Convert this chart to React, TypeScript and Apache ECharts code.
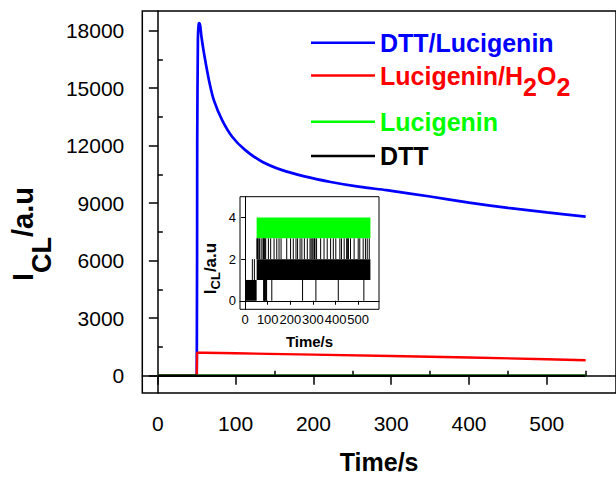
import React, { useEffect, useRef } from "react";
import * as echarts from "echarts";

const FONT = "'Liberation Sans', Arial, Helvetica, sans-serif";

// ---------- main chart data ----------
const blueX = [0, 50, 50.6, 51.5, 52.4, 53.2, 54.5, 56, 59.6, 65.9, 72.2, 82.8, 95.5, 112.4, 133.5, 158.9, 188.5, 222.2, 260.2, 294, 350, 400, 450, 500, 550];
const blueY = [0, 0, 12000, 17600, 18300, 18400, 18250, 17700, 16760, 15380, 14350, 13320, 12470, 11770, 11180, 10740, 10400, 10110, 9850, 9680, 9350, 9030, 8760, 8520, 8300];

const redX = [0, 50, 50.4, 60, 100, 200, 300, 400, 500, 550];
const redY = [0, 0, 1200, 1200, 1170, 1100, 1030, 950, 860, 810];

const greenX = [0, 550];
const greenY = [0, 0];

const blackX = [0, 550];
const blackY = [0, 0];

const xMajor = [0, 100, 200, 300, 400, 500];
const xMinor = [50, 150, 250, 350, 450, 550];
const yMajor = [0, 3000, 6000, 9000, 12000, 15000, 18000];
const yMinor = [1500, 4500, 7500, 10500, 13500, 16500];

// ---------- inset data ----------
const insetXMajor = [0, 100, 200, 300, 400, 500];
const insetYMajor = [0, 2, 4];
// dense black blocks: [xStart, xEnd, yLow, yHigh]
const insetBlackBands = [
  [0, 51, 0, 1],
  [51, 554, 1, 2],
];
// dense green block
const insetGreenBands = [[51, 554, 3, 4]];
// single black spikes from 2 up to 3
const spikeUpX = [52, 55, 58, 64, 71, 79, 81, 85, 88, 91, 103, 113, 128, 140, 150, 159, 184, 201, 213, 225, 232, 243, 251, 262, 275, 287, 292, 297, 304, 307, 309, 316, 334, 349, 363, 378, 390, 401, 419, 426, 438, 449, 452, 457, 466, 482, 500, 507, 522, 532, 540, 549];
// spikes from 1 up to 2 before the injection
const spikeEarlyX = [32, 41];
// spikes from 1 down to 0
const spikeDownX = [82, 84, 86, 88, 91, 93, 95, 118, 254, 313, 412, 525];

const dataPairs = (xs: number[], ys: number[]) => xs.map((x, i) => [x, ys[i]]);

export default function App() {
  const ref = useRef<HTMLDivElement>(null);
  useEffect(() => {
    if (!ref.current) return;
    const chart = echarts.init(ref.current, undefined, { renderer: "svg" });

    const spikes: number[][] = [
      ...spikeUpX.map((x) => [x, 2, 3]),
      ...spikeEarlyX.map((x) => [x, 1, 2]),
      ...spikeDownX.map((x) => [x, 0, 1]),
    ];

    const bandRender = (color: string) => (params: any, api: any) => {
      const p0 = api.coord([api.value(0), api.value(3)]);
      const p1 = api.coord([api.value(1), api.value(2)]);
      return {
        type: "rect",
        shape: { x: p0[0], y: p0[1], width: p1[0] - p0[0], height: p1[1] - p0[1] },
        style: { fill: color },
      };
    };

    const axisLineStyle = { color: "#000", width: 1.5 };
    const legendBase = {
      orient: "horizontal",
      left: 311,
      padding: 0,
      itemWidth: 64,
      itemHeight: 2.4,
      itemGap: 0,
      icon: "rect",
      selectedMode: false,
    };
    const mkText = (color: string) => ({
      fontSize: 25,
      fontWeight: "bold",
      fontFamily: FONT,
      color,
      lineHeight: 26,
    });

    chart.setOption({
      animation: false,
      backgroundColor: "#fff",
      grid: [
        {
          left: 137.5,
          top: 11,
          right: -2,
          bottom: 81.5,
          show: true,
          borderColor: "#000",
          borderWidth: 1.5,
          backgroundColor: "transparent",
        },
        {
          left: 240,
          top: 196.7,
          width: 139,
          height: 112.6,
          show: true,
          borderColor: "#000",
          borderWidth: 1,
          backgroundColor: "#fff",
        },
      ],
      legend: [
        { ...legendBase, top: 29.7, data: ["DTT/Lucigenin"], textStyle: mkText("#0000ff") },
        {
          ...legendBase,
          top: 51.5,
          data: ["Lucigenin/H2O2"],
          formatter: () => "{r|Lucigenin/H}{s|2}{r|O}{s|2}",
          textStyle: {
            ...mkText("#ff0000"),
            rich: {
              r: mkText("#ff0000"),
              s: { ...mkText("#ff0000"), padding: [23, 0, 0, 0] },
            },
          },
        },
        { ...legendBase, top: 108.7, data: ["Lucigenin"], textStyle: mkText("#00ff00") },
        { ...legendBase, top: 143, data: ["DTT"], textStyle: mkText("#000000") },
      ],
      xAxis: [
        {
          gridIndex: 0,
          type: "value",
          min: -20,
          max: 589,
          position: "bottom",
          axisLine: { show: true, lineStyle: axisLineStyle },
          axisTick: { show: true, customValues: xMajor, length: 9, inside: false, lineStyle: axisLineStyle },
          axisLabel: {
            customValues: xMajor,
            fontSize: 21,
            color: "#000",
            fontFamily: FONT,
            margin: 20,
            formatter: (v: number) => String(v),
          },
          splitLine: { show: false },
          name: "Time/s",
          nameLocation: "middle",
          nameGap: 56,
          nameTextStyle: { fontSize: 25, fontWeight: "bold", fontFamily: FONT, color: "#000" },
        },
        {
          gridIndex: 0,
          type: "value",
          min: -20,
          max: 589,
          position: "bottom",
          axisLine: { show: false },
          axisTick: { show: true, customValues: xMinor, length: 5, inside: true, lineStyle: axisLineStyle },
          axisLabel: { show: false },
          splitLine: { show: false },
        },
        {
          gridIndex: 1,
          type: "value",
          min: -22.6,
          max: 592,
          position: "bottom",
          axisLine: { show: true, lineStyle: { color: "#000", width: 1 } },
          axisTick: { show: true, customValues: insetXMajor, length: 4, lineStyle: { color: "#000", width: 1 } },
          axisLabel: {
            customValues: insetXMajor,
            fontSize: 13,
            color: "#000",
            fontFamily: FONT,
            margin: 4,
            formatter: (v: number) => String(v),
          },
          splitLine: { show: false },
          name: "Time/s",
          nameLocation: "middle",
          nameGap: 25,
          nameTextStyle: { fontSize: 15, fontWeight: "bold", fontFamily: FONT, color: "#000" },
        },
      ],
      yAxis: [
        {
          gridIndex: 0,
          type: "value",
          min: -902,
          max: 19030,
          position: "left",
          axisLine: { show: true, lineStyle: axisLineStyle },
          axisTick: { show: true, customValues: yMajor, length: 9, inside: false, lineStyle: axisLineStyle },
          axisLabel: {
            customValues: yMajor,
            fontSize: 21,
            color: "#000",
            fontFamily: FONT,
            margin: 18,
            formatter: (v: number) => String(v),
          },
          splitLine: { show: false },
          name: "{i|I}{s|CL}{i|/a.u}",
          nameLocation: "middle",
          nameRotate: 90,
          nameGap: 114,
          nameTextStyle: {
            align: "center",
            verticalAlign: "middle",
            padding: [0, 64, 0, 0],
            rich: {
              i: { fontSize: 29, fontWeight: "bold", fontFamily: FONT, color: "#000" },
              s: { fontSize: 27, fontWeight: "bold", fontFamily: FONT, color: "#000", padding: [38, 0, 0, 0] },
            },
          },
        },
        {
          gridIndex: 0,
          type: "value",
          min: -902,
          max: 19030,
          position: "left",
          axisLine: { show: false },
          axisTick: { show: true, customValues: yMinor, length: 5, inside: true, lineStyle: axisLineStyle },
          axisLabel: { show: false },
          splitLine: { show: false },
        },
        {
          gridIndex: 1,
          type: "value",
          min: -0.41,
          max: 5,
          position: "left",
          axisLine: { show: true, lineStyle: { color: "#000", width: 1 } },
          axisTick: { show: true, customValues: insetYMajor, length: 4, lineStyle: { color: "#000", width: 1 } },
          axisLabel: {
            customValues: insetYMajor,
            fontSize: 13,
            color: "#000",
            fontFamily: FONT,
            margin: 4,
            formatter: (v: number) => String(v),
          },
          splitLine: { show: false },
          name: "{i|I}{s|CL}{i|/a.u}",
          nameLocation: "middle",
          nameRotate: 90,
          nameGap: 30,
          nameTextStyle: {
            align: "center",
            verticalAlign: "middle",
            padding: [0, 31, 0, 0],
            rich: {
              i: { fontSize: 17, fontWeight: "bold", fontFamily: FONT, color: "#000" },
              s: { fontSize: 13, fontWeight: "bold", fontFamily: FONT, color: "#000", padding: [11, 0, 0, 0] },
            },
          },
        },
      ],
      series: [
        {
          name: "DTT/Lucigenin",
          type: "line",
          xAxisIndex: 0,
          yAxisIndex: 0,
          data: dataPairs(blueX, blueY),
          symbol: "none",
          smooth: 0.25,
          lineStyle: { color: "#0000ff", width: 2.7 },
          itemStyle: { color: "#0000ff" },
          z: 2,
        },
        {
          name: "Lucigenin/H2O2",
          type: "line",
          xAxisIndex: 0,
          yAxisIndex: 0,
          data: dataPairs(redX, redY),
          symbol: "none",
          lineStyle: { color: "#ff0000", width: 2.4 },
          itemStyle: { color: "#ff0000" },
          z: 3,
        },
        {
          name: "Lucigenin",
          type: "line",
          xAxisIndex: 0,
          yAxisIndex: 0,
          data: dataPairs(greenX, greenY),
          symbol: "none",
          lineStyle: { color: "#00ff00", width: 2.4 },
          itemStyle: { color: "#00ff00" },
          z: 4,
        },
        {
          name: "DTT",
          type: "line",
          xAxisIndex: 0,
          yAxisIndex: 0,
          data: dataPairs(blackX, blackY),
          symbol: "none",
          lineStyle: { color: "#000000", width: 2.6 },
          itemStyle: { color: "#000000" },
          z: 5,
        },
        {
          type: "custom",
          xAxisIndex: 2,
          yAxisIndex: 2,
          data: insetBlackBands,
          renderItem: bandRender("#000"),
          z: 6,
        },
        {
          type: "custom",
          xAxisIndex: 2,
          yAxisIndex: 2,
          data: insetGreenBands,
          renderItem: bandRender("#00ff00"),
          z: 6,
        },
        {
          type: "custom",
          xAxisIndex: 2,
          yAxisIndex: 2,
          data: spikes,
          renderItem: (params: any, api: any) => {
            const a = api.coord([api.value(0), api.value(1)]);
            const b = api.coord([api.value(0), api.value(2)]);
            return {
              type: "line",
              shape: { x1: a[0], y1: a[1], x2: b[0], y2: b[1] },
              style: { stroke: "#000", lineWidth: 1 },
            };
          },
          z: 7,
        },
      ],
    });
    return () => chart.dispose();
  }, []);
  return (
    <div
      ref={ref}
      style={{ position: "fixed", left: 0, top: 0, width: 616, height: 479, background: "#fff" }}
    />
  );
}
